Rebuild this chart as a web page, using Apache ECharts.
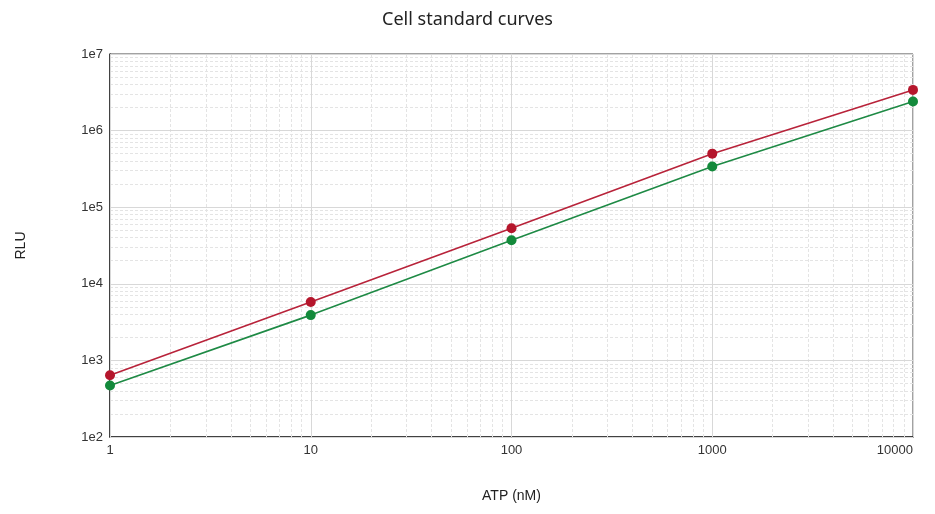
<!DOCTYPE html>
<html>
<head>
<meta charset="utf-8">
<script src="https://cdn.jsdelivr.net/npm/echarts@6/dist/echarts.min.js"></script>
<style>html,body{margin:0;padding:0;background:#fff;}#c{width:935px;height:514px;}</style>
</head>
<body>
<div id="c"></div>
<script>
const atp = [1, 10, 100, 1000, 10000];
const redRLU = [640, 5800, 53000, 500000, 3400000];
const greenRLU = [470, 3900, 37000, 340000, 2400000];
const xTicks = [1, 10, 100, 1000, 10000];
const yTickLabels = ['1e2', '1e3', '1e4', '1e5', '1e6', '1e7'];

const xMinor = [], yMinor = [];
for (let d = 1; d < 10000; d *= 10) for (let k = 2; k <= 9; k++) xMinor.push(d * k);
for (let d = 100; d < 1e7; d *= 10) for (let k = 2; k <= 9; k++) yMinor.push(d * k);

const gridLines = [];
xMinor.forEach(v => gridLines.push({ xAxis: v, lineStyle: { color: '#e4e4e4', type: [3, 2], width: 1 } }));
yMinor.forEach(v => gridLines.push({ yAxis: v, lineStyle: { color: '#e4e4e4', type: [3, 2], width: 1 } }));
xTicks.forEach(v => gridLines.push({ xAxis: v, lineStyle: { color: '#d8d8d8', type: 'solid', width: 1 } }));
[100, 1000, 10000, 100000, 1e6, 1e7].forEach(v => gridLines.push({ yAxis: v, lineStyle: { color: '#d8d8d8', type: 'solid', width: 1 } }));

const chart = echarts.init(document.getElementById('c'));
chart.setOption({
  animation: false,
  backgroundColor: '#fff',
  title: {
    text: 'Cell standard curves', left: 'center', top: 6,
    textStyle: { fontFamily: 'Noto Sans', fontSize: 18, fontWeight: 'normal', color: '#222' }
  },
  grid: { left: 110, right: 22, top: 54, bottom: 77, show: true, borderColor: '#444', borderWidth: 1 },
  xAxis: {
    type: 'log', logBase: 10, min: 1, max: 10000,
    name: 'ATP (nM)', nameLocation: 'middle', nameGap: 52,
    nameTextStyle: { fontFamily: 'Liberation Sans', fontSize: 14, color: '#222' },
    axisLine: { show: true, lineStyle: { color: '#222', width: 1.5 } },
    axisTick: { show: false },
    splitLine: { show: false },
    axisLabel: { fontFamily: 'Liberation Sans', fontSize: 13, color: '#333', margin: 7, alignMaxLabel: 'right', formatter: v => String(v) }
  },
  yAxis: {
    type: 'log', logBase: 10, min: 100, max: 1e7, splitNumber: 5,
    name: 'RLU', nameLocation: 'middle', nameGap: 82, nameRotate: 90,
    nameTextStyle: { fontFamily: 'Liberation Sans', fontSize: 14, color: '#222' },
    axisLine: { show: true, lineStyle: { color: '#222', width: 1.5 } },
    axisTick: { show: false },
    splitLine: { show: false },
    axisLabel: {
      fontFamily: 'Liberation Sans', fontSize: 13, color: '#333', margin: 7,
      formatter: v => yTickLabels[Math.round(Math.log10(v)) - 2]
    }
  },
  series: [
    {
      type: 'line', data: [], z: 1, silent: true,
      markLine: { z: 1, silent: true, symbol: 'none', label: { show: false }, animation: false, data: gridLines }
    },
    {
      type: 'line', z: 5, data: atp.map((x, i) => [x, redRLU[i]]),
      symbol: 'circle', symbolSize: 10,
      lineStyle: { color: '#b8233a', width: 1.6 },
      itemStyle: { color: '#b5162c' }
    },
    {
      type: 'line', z: 5, data: atp.map((x, i) => [x, greenRLU[i]]),
      symbol: 'circle', symbolSize: 10,
      lineStyle: { color: '#1e8a45', width: 1.6 },
      itemStyle: { color: '#138a3b' }
    }
  ]
});
</script>
</body>
</html>
